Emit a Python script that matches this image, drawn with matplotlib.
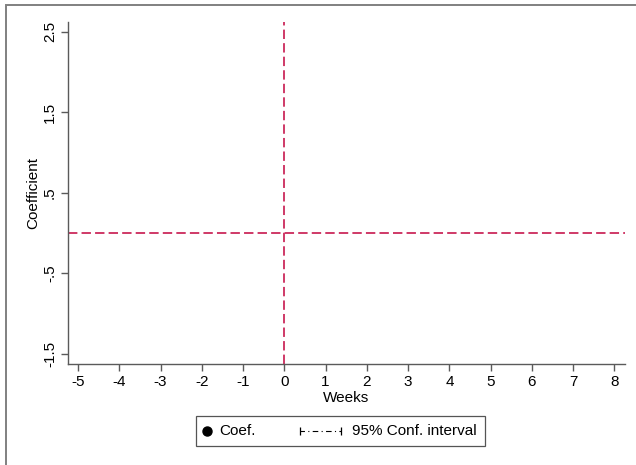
import matplotlib
matplotlib.use("Agg")
import matplotlib.pyplot as plt
from matplotlib.lines import Line2D
from matplotlib.patches import Rectangle

plt.rcParams['font.family'] = ['Liberation Sans', 'DejaVu Sans']

# Data (no estimates visible in the plotted range)
weeks = []
coef = []
ci_low = []
ci_high = []
x_ticks = [-5, -4, -3, -2, -1, 0, 1, 2, 3, 4, 5, 6, 7, 8]
y_ticks = [-1.5, -0.5, 0.5, 1.5, 2.5]
y_tick_labels = ["-1.5", "-.5", ".5", "1.5", "2.5"]
event_week = 0
ref_coef = 0
legend_labels = ["Coef.", "95% Conf. interval"]

W, H = 636, 465
fig = plt.figure(figsize=(W / 100, H / 100), dpi=100)
fig.patch.set_facecolor('white')


def fx(px):
    return px / W


def fy(py):
    return 1 - py / H


# outer graph frame (partially cropped)
fig.add_artist(Rectangle((fx(5.5), -0.1), 1.2, fy(5.5) + 0.1, transform=fig.transFigure,
                         fill=False, edgecolor='#808080', linewidth=1.4))

ax = fig.add_axes([fx(68), fy(364), (625 - 68) / W, (364 - 22) / H])
ax.set_xlim(-5.242, 8.255)
ax.set_ylim(-1.627, 2.62)

red = '#cc2a5c'
ax.axvline(event_week, color=red, linewidth=1.3, dashes=(5.2, 2.3))
ax.axhline(ref_coef, color=red, linewidth=1.3, dashes=(5.2, 2.3))

ax.plot(weeks, coef, 'o', color='black')
for w, lo, hi in zip(weeks, ci_low, ci_high):
    ax.plot([w, w], [lo, hi], color='black', linestyle='-.')

for s in ['top', 'right']:
    ax.spines[s].set_visible(False)
for s in ['left', 'bottom']:
    ax.spines[s].set_color('#5a5a5a')
    ax.spines[s].set_linewidth(1.0)

ax.set_xticks(x_ticks)
ax.set_xticklabels([str(v) for v in x_ticks])
ax.set_yticks(y_ticks)
ax.set_yticklabels(y_tick_labels, rotation=90, va='center')
ax.tick_params(axis='both', length=5, width=1.0, color='#5a5a5a', labelsize=11, pad=3)
ax.set_xlabel('Weeks', fontsize=11, labelpad=1.5)
ax.set_ylabel('Coefficient', fontsize=11, labelpad=2)

# legend box (drawn in figure pixel space)
fig.add_artist(Rectangle((fx(196), fy(446)), (485 - 196) / W, (446 - 416) / H,
                         transform=fig.transFigure, fill=False,
                         edgecolor='#555555', linewidth=0.9))
ly = fy(431)
fig.add_artist(Line2D([fx(207)], [ly], marker='o', markersize=6.5, color='black',
                      linestyle='none', transform=fig.transFigure))
fig.text(fx(219), ly, legend_labels[0], fontsize=11, va='center', ha='left')
fig.add_artist(Line2D([fx(300), fx(341)], [ly, ly], color='black', linewidth=0.8,
                      linestyle=(1, (5, 3, 1, 3)), transform=fig.transFigure))
fig.add_artist(Line2D([fx(300), fx(341)], [ly, ly], color='black', linewidth=0,
                      marker='|', markersize=6, markeredgewidth=0.9,
                      linestyle='none', transform=fig.transFigure))
fig.text(fx(352), ly, legend_labels[1], fontsize=11, va='center', ha='left')

fig.savefig('out.png', dpi=100, facecolor='white')
